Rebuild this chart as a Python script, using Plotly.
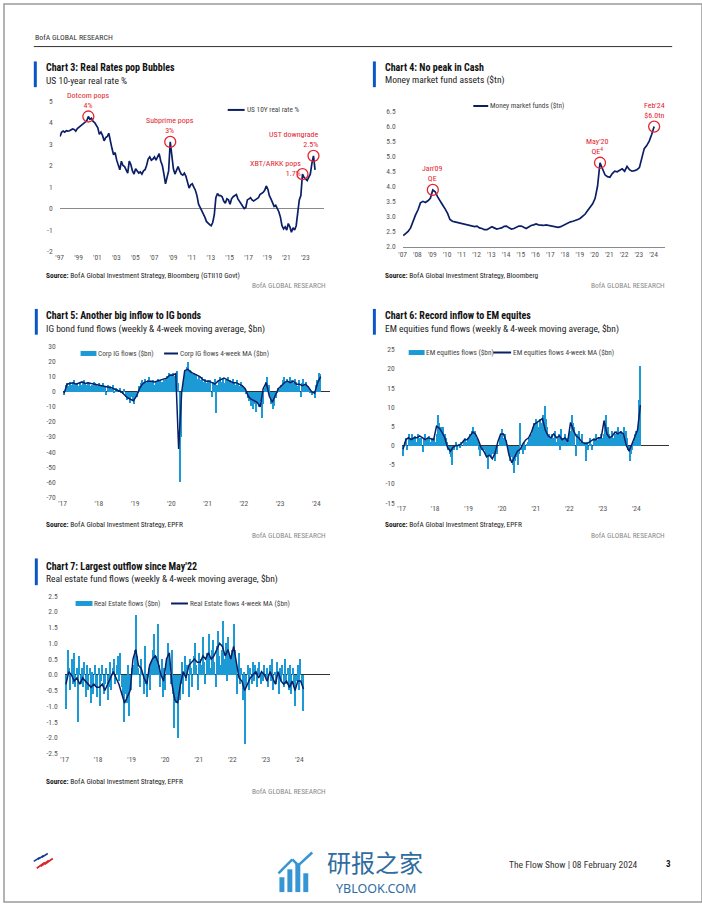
import plotly.graph_objects as go
import pandas as pd

# ---------------- DATA ----------------
# Chart 3: US 10Y real rate %, bi-monthly observations (Jan, Mar, May, Jul, Sep, Nov) from 1997
rr_start = "1997-01-01"
rr_values = [
    3.35, 3.55, 3.6, 3.55, 3.62, 3.6,      # 1997
    3.62, 3.66, 3.7, 3.68, 3.6, 3.72,      # 1998
    3.78, 3.85, 3.9, 3.95, 4.0, 4.08,      # 1999
    4.28, 4.15, 4.2, 4.05, 4.0, 3.9,       # 2000
    3.75, 3.45, 3.55, 3.4, 3.15, 3.3,      # 2001
    3.35, 3.5, 3.1, 2.8, 2.5, 2.6,         # 2002
    2.25, 2.0, 1.8, 2.2, 2.0, 1.95,        # 2003
    1.8, 1.65, 2.2, 2.05, 1.75, 1.6,       # 2004
    1.85, 1.75, 1.65, 1.7, 1.6, 1.75,      # 2005
    1.8, 2.0, 2.3, 2.4, 2.25, 2.3,         # 2006
    2.4, 2.25, 2.45, 2.55, 2.2, 2.0,       # 2007
    1.6, 1.15, 1.45, 1.75, 3.1, 2.3,       # 2008
    1.85, 1.6, 1.8, 1.95, 1.75, 1.6,       # 2009
    1.55, 1.65, 1.5, 1.25, 0.95, 1.1,      # 2010
    1.15, 1.0, 0.85, 0.6, 0.2, 0.05,       # 2011
    -0.1, -0.2, -0.4, -0.6, -0.7, -0.75,   # 2012
    -0.8, -0.65, -0.3, 0.5, 0.7, 0.6,      # 2013
    0.6, 0.55, 0.35, 0.25, 0.45, 0.4,      # 2014
    0.2, 0.45, 0.55, 0.6, 0.65, 0.45,      # 2015
    0.35, 0.25, 0.15, 0.0, 0.05, 0.4,      # 2016
    0.45, 0.5, 0.4, 0.35, 0.4, 0.45,       # 2017
    0.5, 0.65, 0.7, 0.75, 0.85, 1.05,      # 2018
    0.9, 0.6, 0.45, 0.25, 0.1, 0.15,       # 2019
    0.0, -0.15, -0.4, -0.8, -0.95, -0.85,  # 2020
    -1.0, -0.7, -0.85, -1.1, -0.9, -1.0,   # 2021
    -0.8, -0.3, 0.4, 0.6, 1.6, 1.45,       # 2022
    1.35, 1.3, 1.45, 1.6, 2.1, 2.45,       # 2023
    1.8,                                   # 2024
]
rr_years = list(range(1997, 2024, 2))
rr_callouts = [("2000-01-15", 4.28, "Dotcom pops<br>4%"),
               ("2008-09-15", 3.1, "Subprime pops<br>3%"),
               ("2022-09-15", 1.6, "XBT/ARKK pops<br>1.7%"),
               ("2023-11-15", 2.45, "UST downgrade<br>2.5%")]

# Chart 4: Money market fund assets ($tn), bi-monthly from 2007
mmf_start = "2007-01-01"
mmf_values = [
    2.36, 2.42, 2.5, 2.62, 2.85, 3.05,     # 2007
    3.22, 3.45, 3.5, 3.46, 3.52, 3.6,      # 2008
    3.88, 3.82, 3.65, 3.5, 3.38, 3.25,     # 2009
    3.1, 2.9, 2.84, 2.82, 2.8, 2.8,        # 2010
    2.78, 2.76, 2.74, 2.72, 2.68, 2.66,    # 2011
    2.68, 2.62, 2.6, 2.56, 2.56, 2.6,      # 2012
    2.66, 2.62, 2.58, 2.6, 2.62, 2.67,     # 2013
    2.68, 2.62, 2.58, 2.6, 2.63, 2.68,     # 2014
    2.68, 2.63, 2.6, 2.65, 2.7, 2.72,      # 2015
    2.75, 2.72, 2.7, 2.7, 2.72, 2.7,       # 2016
    2.68, 2.68, 2.66, 2.64, 2.66, 2.7,     # 2017
    2.76, 2.8, 2.82, 2.84, 2.86, 2.9,      # 2018
    2.94, 3.0, 3.08, 3.2, 3.32, 3.42,      # 2019
    3.6, 4.0, 4.78, 4.55, 4.38, 4.32,      # 2020
    4.3, 4.42, 4.5, 4.48, 4.52, 4.58,      # 2021
    4.5, 4.66, 4.55, 4.5, 4.52, 4.55,      # 2022
    4.62, 4.9, 5.25, 5.35, 5.5, 5.72,      # 2023
    5.98,                                  # 2024
]
mmf_years = list(range(2007, 2025))
mmf_callouts = [("2009-01-15", 3.88, "Jan'09<br>QE"),
                ("2020-05-15", 4.78, "May'20<br>QE<sup>4</sup>"),
                ("2024-01-15", 5.98, "Feb'24<br>$6.0tn")]

# Flow charts: bi-weekly flows ending Feb-2024, monthly 4-week MA from Jan-2017
flow_end = "2024-02-07"
ma_start = "2017-01-01"
flow_years = list(range(2017, 2025))

ig_flows = [
    -2, 5, 6, 4, 7, 5, 6, 8, 5, 6, 4, 7, 5, 6, 8, 6, 5, 7, 6, 4, 5, 7, 6, 5, 4, 6,
    5, 3, 6, 4, -2, 5, 3, 4, 2, 5, 1, 3, 2, 0, 3, 1, -1, 2, -3, -5, -4, -7, -3, -6, -8, -4,
    -3, 1, 4, 6, 8, 7, 9, 6, 8, 10, 7, 6, 8, 5, 7, 9, 6, 8, 7, 5, 8, 9, 11, 13, 10, 12,
    13, 11, 12, 14, 6, -60, -30, 2, 10, 14, 17, 20, 15, 14, 12, 13, 10, 12, 9, 11, 8, 10, 7, 9, 6, 8,
    6, 8, -3, 7, 9, -14, 5, 8, 10, 7, 9, 6, 8, 7, 10, 8, 6, 9, 7, 5, 8, 6, 4, 7, 5, 3,
    2, -1, -4, -6, -9, -5, -11, -8, -13, -7, -10, -6, -17, -8, 3, 7, 10, 5, -2, -8, -11, -9, -4, 1, 3, 2,
    5, 8, 10, 6, 9, 7, 10, 5, 8, 6, 9, 7, 4, 8, -3, 6, 9, 5, 7, 4, 3, 1, -2, 1, -4, 5,
    8, 13, 12,
]
ig_ma = [
    -1, 5, 5.5, 6, 5, 6, 6.5, 5.5, 6, 5.5, 5, 5,
    4.5, 4, 3.5, 3, 2.5, 1.5, 1, 0, -2, -4, -5, -6,
    -3, 2, 5, 6.5, 7, 7, 6.5, 7, 7.5, 8, 9, 11,
    11, 12, -38, 0, 14, 15, 13, 12, 11, 10, 8, 7,
    7, 6, 5, 7, 8, 9, 8, 7, 6, 6, 5, 4,
    2, -3, -5, -6, -7, -10, 2, 6, -3, -7, -2, 2,
    4, 6, 7, 6, 7, 5, 5, 4, 5, 3, 0, -1,
    6, 10,
]

em_flows = [
    -2.5, 1, 2, -1, 3, 2, 1.5, 3, 2, 2.5, 1, 3, 2, 1.5, 2, -1.5, 2, 3, 1.5, 2, 2.5, 1, 2, 1.5, 2, 1,
    3, 8, 6, 5, 4, 5, 3, 2, 1, -1, -2, -3, -5, -1, 0, 1, -1, 0.5, -0.5, 1, 0, 1.5, 2, 1, 2, 1.5,
    3, 4, 5, 3, 4, 2, 1, -1, -2.5, -1, 0, -1, -2, -3, -6, -2, -3, -1, -2, -4, -1, -2, 0, 2, 3, 4.5,
    2, 3, 1.5, 0.5, -2, -4, -3, -5, -7, -4, -3, -5, -2, 6, -1, -2, 1, -1, 0.5, 1, 2, 3, 2.5, 5, 6, 7,
    6, 5, 7, 4, 6, 8, 10.5, 7, 5, 3, 2, 1.5, 3, 2, 4, 1, 2, 3, -1, 4.5, 2, 1, 3, 2, 1.5, 0.5,
    4, 8, 6, 5, -2.5, 3, 2, 4, 1, 3, 0.5, 1, -4, 1, -1, 2, 0.5, -1, 2, 1, 3, 1.5, 2, 1, 3, 2,
    3, 6, 8, 5, 3, 2, 4, 1, 2, 3, 4, 5, 3, 4, 2, 3, 5, 4, 2, -1, -4, -2, -1, 1, 3, 4,
    4, 12, 20.8,
]
em_ma = [
    -1, 1.5, 2, 1.5, 2, 2, 2.5, 2, 1.5, 2, 1.8, 1.5,
    5, 4.5, 3.5, 2, -0.5, -1.5, -0.5, 0, 0, 0.5, 1.5, 1.5,
    2.5, 3.5, 3, 1.5, -0.5, -1.5, -3, -2.5, -3.5, -2, 1, 3,
    3, 1, -2.5, -4.5, -3, -1.5, -1, 0.5, 1.5, 2, 3.5, 5.5,
    6, 6.5, 7, 4, 2.5, 2, 3, 2, 2.5, 1.5, 2, 1,
    6, 4, 2.5, 2, 1, 0.5, 0.5, 1, 1.5, 1.5, 2, 2,
    6.5, 3, 2, 2.5, 3.5, 3, 3.5, 3, 0, -1.5, 0.5, 2.5,
    4, 10.5,
]

re_flows = [
    -1.1, 0.8, 0.2, -0.5, 0.5, -0.3, 0.7, -0.4, 0.2, -1.5, 0.6, -0.3, 0.2, -0.4, 0.4, -0.7, 0.3, -0.5, 0.2, -0.9, 0.1, -0.6, 0.3, -0.4, -0.7, 0.2,
    -1.0, -0.2, 0.3, -0.6, -0.3, 0.2, -0.8, -0.4, 0.4, -0.5, 0.2, 0.5, -0.3, 0.3, 0.6, -0.2, 0.7, -0.4, -0.7, -1.5, -0.6, -0.9, 0.3, -1.3, -0.5, 0.2,
    0.3, 0.8, 1.9, 0.6, 0.2, -0.4, 0.5, 0.1, -0.6, 0.9, -0.3, -0.7, 0.2, -0.5, 0.4, 0.8, 1.3, 0.2, 0.6, 1.6, 0.3, -0.4, 0.5, -0.7, 0.2, -0.5,
    0.4, 1.0, 0.6, -0.3, 0.8, -0.6, -1.7, -0.9, -0.5, -2.0, -0.8, -0.3, 0.4, -0.6, 0.6, -0.2, 0.3, -0.7, 0.5, 0.2, -0.4, 0.6, 1.0, 0.3, -0.5, 0.7,
    0.5, 0.3, 1.2, 0.4, -0.3, 0.7, 0.5, 1.3, 0.2, 0.8, 1.1, 0.4, -0.4, 0.9, 1.4, 0.6, 0.3, 0.8, 1.7, 0.5, 1.0, -0.2, 1.2, 0.6, 0.3, 0.8,
    1.6, 0.8, 0.4, -0.6, 0.7, -0.3, 0.2, -0.8, 0.1, -2.2, -0.4, 0.3, -0.5, 0.2, -0.3, 0.4, -0.2, 0.3, -0.4, 0.2, 0.4, -0.3, 0.1, -0.2, 0.3, -0.1,
    0.2, -0.4, 0.3, -0.2, 0.5, -0.5, 0.1, -0.3, 0.4, -0.6, 0.2, -0.2, 0.3, -0.4, 0.5, -0.3, 0.2, -0.5, 0.3, -0.6, 0.2, -0.4, -1.0, -0.2, 0.3, -0.5,
    0.5, -0.3, -1.15,
]
re_ma = [
    -0.3, 0.1, 0.0, -0.2, -0.1, -0.3, -0.1, -0.2, -0.3, -0.4, -0.3, -0.4,
    -0.4, -0.3, -0.5, -0.3, -0.1, 0.1, -0.1, -0.3, -0.6, -0.9, -0.7, -0.5,
    0.5, 0.8, 0.3, 0.2, -0.1, -0.3, 0.3, 0.5, 0.6, 0.4, 0.0, -0.2,
    0.5, 0.7, -0.3, -0.8, -0.9, -0.3, 0.1, -0.1, 0.3, 0.4, 0.5, 0.4,
    0.4, 0.6, 0.5, 0.7, 0.5, 0.6, 0.8, 1.0, 0.9, 0.6, 0.8, 0.5,
    0.9, 0.3, -0.1, -0.2, -0.5, -0.3, -0.1, 0.0, 0.1, -0.1, 0.1, 0.0,
    -0.2, 0.1, -0.1, -0.3, 0.1, -0.2, -0.3, -0.2, -0.4, -0.2, -0.5, -0.2,
    -0.2, -0.45,
]

# ---------------- STYLE ----------------
W, H = 702, 907
FONT = "Liberation Sans Narrow, Roboto Condensed, Arial Narrow, Roboto, sans-serif"
NAVY = "#0b1f66"
LIGHT = "#1b9ad6"
RED = "#e3262f"
BLUEBAR = "#0a56c8"
TICK = "#555555"


def fx(p):
    return p / W


def fy(p):
    return 1 - p / H


def ds(idx):
    return [d.strftime("%Y-%m-%d") for d in idx]


rr_dates = ds(pd.date_range(rr_start, periods=len(rr_values), freq="2MS") + pd.Timedelta(days=14))
mmf_dates = ds(pd.date_range(mmf_start, periods=len(mmf_values), freq="2MS") + pd.Timedelta(days=14))


def flow_dates(vals):
    return ds(pd.date_range(end=flow_end, periods=len(vals), freq="14D"))


def ma_dates(vals):
    return ds(pd.date_range(ma_start, periods=len(vals), freq="MS") + pd.Timedelta(days=14))


fig = go.Figure()

# chart 3
fig.add_trace(go.Scatter(x=rr_dates, y=rr_values, mode="lines", line=dict(color=NAVY, width=1.7),
                         xaxis="x", yaxis="y", hoverinfo="skip"))
# chart 4
fig.add_trace(go.Scatter(x=mmf_dates, y=mmf_values, mode="lines", line=dict(color=NAVY, width=1.7),
                         xaxis="x2", yaxis="y2", hoverinfo="skip"))
# flow charts
BARW = 14 * 86400000
for flows, ma, ax in [(ig_flows, ig_ma, "3"), (em_flows, em_ma, "4"), (re_flows, re_ma, "5")]:
    fig.add_trace(go.Bar(x=flow_dates(flows), y=flows, width=BARW, marker=dict(color=LIGHT, line=dict(width=0)),
                         xaxis="x" + ax, yaxis="y" + ax, hoverinfo="skip"))
    fig.add_trace(go.Scatter(x=ma_dates(ma), y=ma, mode="lines", line=dict(color=NAVY, width=1.5),
                             xaxis="x" + ax, yaxis="y" + ax, hoverinfo="skip"))


def xaxis(left, right, rng, years, anchor, showline=False):
    return dict(domain=[fx(left), fx(right)], range=rng, type="date",
                tickvals=[f"{y}-01-01" for y in years], ticktext=[f"'{y % 100:02d}" for y in years],
                showgrid=False, zeroline=False, showline=showline, linecolor="#8a8a8a", linewidth=1,
                ticks="", anchor=anchor, tickfont=dict(size=7.5, color=TICK, family=FONT), fixedrange=True)


def yaxis(top, bottom, rng, vals, fmt, anchor, zc=None):
    return dict(domain=[fy(bottom), fy(top)], range=rng, tickvals=vals, ticktext=[fmt(v) for v in vals],
                showgrid=False, zeroline=zc is not None, zerolinecolor=zc or "#000", zerolinewidth=1,
                anchor=anchor, ticks="", ticklabelstandoff=6, showline=False,
                tickfont=dict(size=7.5, color=TICK, family=FONT), fixedrange=True)


fig.update_layout(
    width=W, height=H, margin=dict(l=0, r=0, t=0, b=0), paper_bgcolor="white", plot_bgcolor="rgba(0,0,0,0)",
    showlegend=False, bargap=0, font=dict(family=FONT, size=7, color=TICK),
    xaxis=xaxis(56, 322, ["1997-01-01", "2025-01-01"], rr_years, "y"),
    yaxis=yaxis(98, 250, [-2, 5], list(range(-2, 6)), lambda v: str(v), "x", zc="#8a8a8a"),
    xaxis2=xaxis(401, 665, ["2007-01-01", "2024-10-15"], mmf_years, "y2", showline=True),
    yaxis2=yaxis(108, 245, [2.0, 6.5], [2.0 + 0.5 * i for i in range(10)], lambda v: f"{v:.1f}", "x2"),
    xaxis3=xaxis(59, 328, ["2017-01-01", "2024-05-20"], flow_years, "y3"),
    yaxis3=yaxis(346, 498, [-70, 30], list(range(-70, 31, 10)), lambda v: str(v), "x3", zc="#333333"),
    xaxis4=xaxis(400, 669, ["2017-01-01", "2024-12-25"], flow_years, "y4"),
    yaxis4=yaxis(349, 504, [-15, 25], list(range(-15, 26, 5)), lambda v: str(v), "x4", zc="#333333"),
    xaxis5=xaxis(61, 328, ["2017-01-01", "2024-12-01"], flow_years, "y5"),
    yaxis5=yaxis(598, 757, [-2.5, 2.5], [-2.5 + 0.5 * i for i in range(11)], lambda v: f"{v:.1f}", "x5", zc="#333333"),
)

shapes = []
ann = []


def text(x, y, s, size=7, color="#444", xanchor="left", bold=False, family=FONT):
    ann.append(dict(x=fx(x), y=fy(y), xref="paper", yref="paper", text=f"<b>{s}</b>" if bold else s,
                    showarrow=False, xanchor=xanchor, yanchor="middle", borderpad=0,
                    font=dict(size=size, color=color, family=family)))


def rect(x0, y0, x1, y1, color):
    shapes.append(dict(type="rect", xref="paper", yref="paper", x0=fx(x0), x1=fx(x1), y0=fy(y0), y1=fy(y1),
                       fillcolor=color, line=dict(width=0), layer="above"))


def seg(x0, y0, x1, y1, color, width):
    shapes.append(dict(type="line", xref="paper", yref="paper", x0=fx(x0), x1=fx(x1), y0=fy(y0), y1=fy(y1),
                       line=dict(color=color, width=width)))


# page frame and header
shapes.append(dict(type="rect", xref="paper", yref="paper", x0=0, x1=1, y0=0, y1=1,
                   line=dict(color="#9a9a9a", width=1.5), fillcolor="rgba(0,0,0,0)"))
text(30, 34, "BofA GLOBAL RESEARCH", size=7.8, color="#333")
seg(30, 43, 672, 43, "#333333", 1)

# titles
titles = [
    (30, 41, 58, 84, 64, 77, "Chart 3: Real Rates pop Bubbles", "US 10-year real rate %"),
    (371, 382, 58, 84, 64, 77, "Chart 4: No peak in Cash", "Money market fund assets ($tn)"),
    (31, 41, 308, 334, 315, 328, "Chart 5: Another big inflow to IG bonds",
     "IG bond fund flows (weekly &amp; 4-week moving average, $bn)"),
    (371, 382, 308, 334, 315, 328, "Chart 6: Record inflow to EM equites",
     "EM equities fund flows (weekly &amp; 4-week moving average, $bn)"),
    (31, 41, 560, 587, 568, 581, "Chart 7: Largest outflow since May'22",
     "Real estate fund flows (weekly &amp; 4-week moving average, $bn)"),
]
for bx, tx, y0, y1, ty, sy, t, s in titles:
    rect(bx, y0, bx + 3, y1, BLUEBAR)
    text(tx, ty, t, size=10, color="#111", bold=True)
    text(tx, sy, s, size=9.5, color="#222")

# sources
sources = [
    (41, 274, 325, 284, "Bloomberg (GTII10 Govt)"),
    (382, 274, 666, 284, "Bloomberg"),
    (41, 526, 325, 537, "EPFR"),
    (382, 526, 666, 537, "EPFR"),
    (41, 785, 325, 795, "EPFR"),
]
for sx, sy, rx, ry, src in sources:
    text(sx, sy, "<b>Source:</b> BofA Global Investment Strategy, " + src, size=7.4, color="#222")
    text(rx, ry, "BofA GLOBAL RESEARCH", size=7.4, color="#8a8a8a", xanchor="right")

# legends
seg(225, 107, 242, 107, NAVY, 2)
text(243, 107, "US 10Y real rate %", size=7.3)
seg(472, 103, 487, 103, NAVY, 2)
text(488, 103, "Money market funds ($tn)", size=7.3)
legends = [
    (77, 93, 353, 161, 175, "Corp IG flows ($bn)", "Corp IG flows 4-week MA ($bn)"),
    (407, 423, 352, 492, 510, "EM equities flows ($bn)", "EM equities flows 4-week MA ($bn)"),
    (72, 89, 605.5, 168, 185, "Real Estate flows ($bn)", "Real Estate flows 4-week MA ($bn)"),
]
for r0, r1, ly, l0, l1, t1, t2 in legends:
    rect(r0, ly - 2.5, r1, ly + 2.5, LIGHT)
    text(r1 + 0.5, ly, t1, size=7.3)
    seg(l0, ly, l1, ly, NAVY, 2)
    text(l1 + 1, ly, t2, size=7.3)

# callouts
rfont = dict(size=8, color=RED, family=FONT)


def circle(xa, ya, xv, yv):
    shapes.append(dict(type="circle", xref=xa, yref=ya, xsizemode="pixel", ysizemode="pixel",
                       xanchor=xv, yanchor=yv, x0=-5.5, x1=5.5, y0=-5.5, y1=5.5,
                       line=dict(color=RED, width=1.3), layer="above"))


for i, (d, v, t) in enumerate(rr_callouts):
    circle("x", "y", d, v)
    if i < 2:
        ann.append(dict(x=d, y=v, xref="x", yref="y", text=t, showarrow=False, xanchor="center",
                        yanchor="bottom", yshift=5, font=rfont))
    elif i == 2:
        ann.append(dict(x=d, y=v, xref="x", yref="y", text=t, showarrow=False, xanchor="right", align="right",
                        yanchor="middle", yshift=6, xshift=1, font=rfont))
    else:
        ann.append(dict(x=d, y=v, xref="x", yref="y", text=t, showarrow=False, xanchor="right", align="right",
                        yanchor="bottom", yshift=5, xshift=8, font=rfont))
for i, (d, v, t) in enumerate(mmf_callouts):
    circle("x2", "y2", d, v)
    ann.append(dict(x=d, y=v, xref="x2", yref="y2", text=t, showarrow=False, xanchor="center",
                    yanchor="bottom", yshift=5, xshift=-3 if i == 1 else 0, font=rfont))

# footer: BofA flag logo
for k in range(3):
    seg(30 + 4 * k, 866 - 2 * k, 36 + 4 * k, 862 - 2 * k, "#1a3a8c", 1.6)
    seg(33 + 4 * k, 873 - 2 * k, 41 + 4 * k, 867 - 2 * k, "#d9262e", 1.8)

# watermark
WM = "#2f6c9f"
WL = "#3596d3"
for bx0, btop in [(277, 882), (285, 874), (293, 868), (301, 878)]:
    rect(bx0, btop, bx0 + 5, 897, WL)
seg(276, 878, 290, 864, WL, 2.5)
seg(290, 864, 296, 870, WL, 2.5)
seg(296, 870, 310, 857, WL, 2.5)
text(373, 866, "研报之家", size=24, color=WM, xanchor="center", family="Noto Sans CJK SC")
text(374, 893, "YBLOOK.COM", size=12.5, color=WM, xanchor="center", family="Noto Sans, sans-serif")

text(507, 869, "The Flow Show | 08 February 2024", size=9.5, color="#333")
text(665, 869, "3", size=9, color="#111", bold=True)

fig.update_layout(shapes=shapes, annotations=ann)
fig.write_html("out.html", config={"displayModeBar": False},
               post_script="document.body.style.margin='0';document.body.style.padding='0';")
